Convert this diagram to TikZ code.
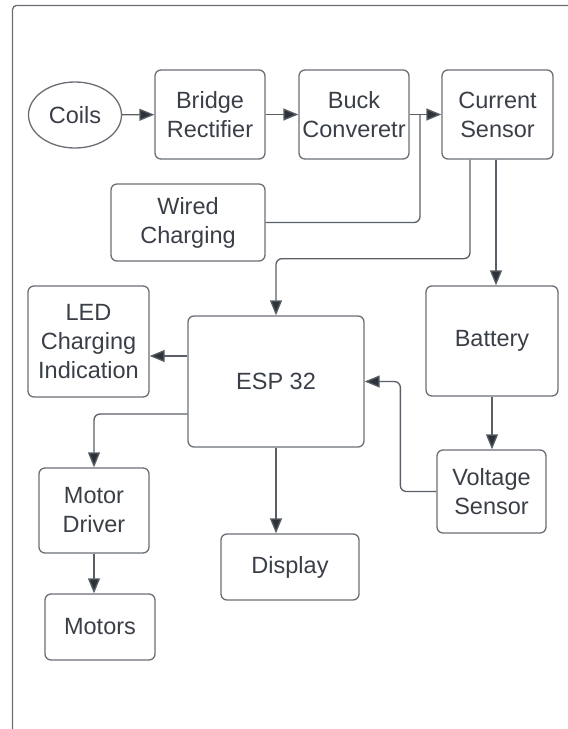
\documentclass[tikz,border=0pt]{standalone}
\usepackage{fontspec}
\setmainfont{Liberation Sans}
\usepackage{tikz}
\usepackage{xcolor}
\usetikzlibrary{shapes,arrows.meta,positioning,calc}

\definecolor{linegray}{HTML}{5A5F66}
\definecolor{boxgray}{HTML}{6A6E74}
\definecolor{textgray}{HTML}{3A3F47}
\definecolor{headgray}{HTML}{2E333B}

\begin{document}
\begin{tikzpicture}[x=1pt, y=-1pt,
    blk/.style={draw=boxgray, line width=1.3pt, rounded corners=6pt, inner sep=0pt,
        align=center, text=textgray, font=\fontsize{23.5}{29}\selectfont},
    oval/.style={ellipse, draw=boxgray, line width=1.3pt, inner sep=0pt,
        text=textgray, font=\fontsize{23.5}{29}\selectfont},
    conn/.style={draw=linegray, line width=1.3pt, rounded corners=6pt,
        -{Triangle[length=15pt,width=12pt,fill=headgray]}},
    plain/.style={draw=linegray, line width=1.3pt, rounded corners=6pt}]
    \useasboundingbox (0,0) rectangle (568,729);

    % Frame
    \draw[boxgray, line width=1.3pt, rounded corners=4pt] (12.5,729) -- (12.5,5.5) -- (568,5.5);

    % Power chain
    \node[oval, minimum width=93pt, minimum height=66pt] (coils) at (75,115) {Coils};
    \node[blk, minimum width=110pt, minimum height=89pt] (bridge) at (210,114.5) {Bridge\\Rectifier};
    \node[blk, minimum width=110pt, minimum height=89pt] (buck) at (354,114.5) {Buck\\Converetr};
    \node[blk, minimum width=111pt, minimum height=89pt] (cursens) at (497.5,114.5) {Current\\Sensor};
    \node[blk, minimum width=154pt, minimum height=77pt] (wired) at (188,222.5) {Wired\\Charging};

    % Controller and peripherals
    \node[blk, minimum width=121pt, minimum height=111pt] (led) at (88.5,341.5) {LED\\Charging\\Indication};
    \node[blk, minimum width=176pt, minimum height=131pt] (esp) at (276,381.5) {ESP 32};
    \node[blk, minimum width=132pt, minimum height=110pt] (battery) at (492,341) {Battery};
    \node[blk, minimum width=109pt, minimum height=83pt] (voltsens) at (491.5,491.5) {Voltage\\Sensor};
    \node[blk, minimum width=110pt, minimum height=85pt] (motordrv) at (94,510.5) {Motor\\Driver};
    \node[blk, minimum width=110pt, minimum height=66pt] (motors) at (100,627) {Motors};
    \node[blk, minimum width=138pt, minimum height=66pt] (display) at (290,567) {Display};

    % Connections
    \coordinate (jn) at (420,115);
    \draw[conn] (coils) -- (bridge);
    \draw[conn] (bridge) -- (buck);
    \draw[conn] (buck) -- (cursens);
    \draw[plain] (wired.east) -| (jn);
    \draw[conn] ([xshift=-27.5pt]cursens.south) -- ++(0,99) -| (esp.north);
    \draw[conn] ([xshift=-1.5pt]cursens.south) -- ([xshift=4pt]battery.north);
    \draw[conn] (battery.south) -- (battery.south |- voltsens.north);
    \draw[conn] (voltsens.west) -- ++(-36,0) |- (esp.east);
    \draw[conn] ([yshift=25.5pt]esp.west) -- ([yshift=25.5pt]esp.west -| led.east);
    \draw[conn] ([yshift=-32.5pt]esp.west) -| (motordrv.north);
    \draw[conn] (motordrv.south) -- (motordrv.south |- motors.north);
    \draw[conn] (esp.south) -- (esp.south |- display.north);
\end{tikzpicture}
\end{document}
